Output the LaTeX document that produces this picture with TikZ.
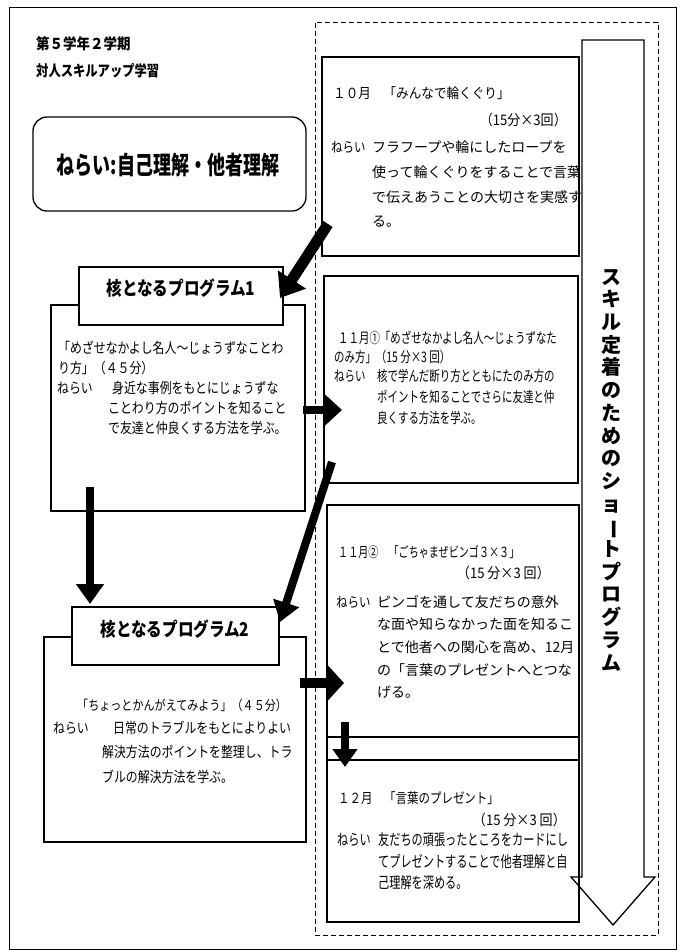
\documentclass[tikz,border=0pt]{standalone}
\usepackage{fontspec}
\usepackage{graphicx}
\usetikzlibrary{arrows.meta,fit}
\setmainfont{Noto Sans CJK JP}
\newfontfamily\jpn{Noto Sans CJK JP}
\newfontfamily\jpe{Noto Sans CJK JP}[FakeStretch=0.9]
\newfontfamily\jpc{Noto Sans CJK JP}[FakeStretch=0.82]
\newfontfamily\jpd{Noto Sans CJK JP}[FakeStretch=0.72]
\begin{document}
\begin{tikzpicture}[x=1pt,y=-1pt,
  box/.style={draw, line width=1.3pt, fill=white, inner sep=0pt},
  t/.style={inner sep=0pt, anchor=west},
  te/.style={inner sep=0pt, anchor=east}]
\useasboundingbox (0,0) rectangle (681,951);
% outer frame and dashed region
\node[draw, line width=1pt, inner sep=0pt, fit={(9,7)(676,949)}] (frame) {};
\node[draw, line width=0.9pt, dash pattern=on 5pt off 3pt, inner sep=0pt, fit={(315,22)(658,935)}] (dash) {};
% title
\node[t, font=\jpe\bfseries\fontsize{15}{17}\selectfont] (title1) at (36,44) {第５学年２学期};
\node[t, font=\jpc\bfseries\fontsize{15}{17}\selectfont] (title2) at (36,71) {対人スキルアップ学習};
% aim box
\node[draw, line width=1.3pt, rounded corners=14pt, inner sep=0pt, fit={(33,117)(306,211)}] (aim) {};
\node[font=\jpd\bfseries\fontsize{25}{28}\selectfont, inner sep=0pt] (aimt) at (168,165) {ねらい:自己理解・他者理解};
% right boxes
\node[box, fit={(322,57)(579,256)}] (b10) {};
\node[box, fit={(324,276)(578,483)}] (b11a) {};
\node[box, fit={(327,505)(579,760)}] (b11b) {};
\draw[line width=1.3pt] (b11b.west |- 0,737) -- (b11b.east |- 0,737);
\node[box, fit={(327,760)(579,922)}] (b12) {};
% left boxes
\node[box, fit={(51,305)(305,511)}] (l1) {};
\node[box, fit={(79,267)(283,325)}] (k1) {};
\node[font=\jpc\bfseries\fontsize{19}{22}\selectfont, inner sep=0pt] (k1t) at (181,288) {核となるプログラム1};
\node[box, fit={(44,637)(306,842)}] (l2) {};
\node[box, fit={(72,607)(279,665)}] (k2) {};
\node[font=\jpc\bfseries\fontsize{19}{22}\selectfont, inner sep=0pt] (k2t) at (175,629) {核となるプログラム2};
% big hollow arrow
\draw[line width=1.3pt, line join=miter] (582,40) -- (644,40) -- (644,877) -- (655,877) -- (613,925) -- (571,877) -- (582,877) -- cycle;
\node[font=\jpn\bfseries\fontsize{20}{22.7}\selectfont, align=center, inner sep=0pt] (vt) at (611,470)
  {ス\\キ\\ル\\定\\着\\の\\た\\め\\の\\シ\\ョ\\\rotatebox[origin=c]{-90}{ー}\\ト\\プ\\ロ\\グ\\ラ\\ム};
% 10月
\node[t, font=\jpe\fontsize{14}{16}\selectfont] (a1) at (333,93) {１０月　「みんなで輪くぐり」};
\node[te, font=\jpe\fontsize{14.5}{16}\selectfont] (a2) at (567,120) {（15分×3回）};
\node[t, font=\jpc\fontsize{14}{16}\selectfont] (a3) at (331,147) {ねらい};
\node[t, font=\jpn\fontsize{14}{16}\selectfont] (a4) at (372,147) {フラフープや輪にしたロープを};
\node[t, font=\jpn\fontsize{14}{16}\selectfont] (a5) at (372,172) {使って輪くぐりをすることで言葉};
\node[t, font=\jpn\fontsize{14}{16}\selectfont] (a6) at (372,197) {で伝えあうことの大切さを実感す};
\node[t, font=\jpn\fontsize{14}{16}\selectfont] (a7) at (372,222) {る。};
% 11月①
\node[t, font=\jpd\fontsize{14.5}{16}\selectfont] (c1) at (338,338) {１１月①「めざせなかよし名人～じょうずなた};
\node[t, font=\jpd\fontsize{14.5}{16}\selectfont] (c2) at (334,357) {のみ方」（15 分×3 回）};
\node[t, font=\jpd\fontsize{14.5}{16}\selectfont] (c3) at (334,376) {ねらい};
\node[t, font=\jpd\fontsize{14.5}{16}\selectfont] (c4) at (377,376) {核で学んだ断り方とともにたのみ方の};
\node[t, font=\jpd\fontsize{14.5}{16}\selectfont] (c5) at (377,397) {ポイントを知ることでさらに友達と仲};
\node[t, font=\jpd\fontsize{14.5}{16}\selectfont] (c6) at (377,418) {良くする方法を学ぶ。};
% 11月②
\node[t, font=\jpd\fontsize{14}{16}\selectfont] (d1) at (338,552) {１１月②　「ごちゃまぜビンゴ３×３」};
\node[te, font=\jpe\fontsize{14.5}{16}\selectfont] (d2) at (550,573) {（15 分×3 回）};
\node[t, font=\jpc\fontsize{14}{16}\selectfont] (d3) at (336,602) {ねらい};
\node[t, font=\jpn\fontsize{14}{16}\selectfont] (d4) at (377,602) {ピンゴを通して友だちの意外};
\node[t, font=\jpn\fontsize{14}{16}\selectfont] (d5) at (377,624) {な面や知らなかった面を知るこ};
\node[t, font=\jpn\fontsize{14}{16}\selectfont] (d6) at (377,647) {とで他者への関心を高め、12月};
\node[t, font=\jpn\fontsize{14}{16}\selectfont] (d7) at (377,670) {の「言葉のプレゼントへとつな};
\node[t, font=\jpn\fontsize{14}{16}\selectfont] (d8) at (377,692) {げる。};
% 12月
\node[t, font=\jpc\fontsize{14}{16}\selectfont] (e1) at (338,798) {１２月　「言葉のプレゼント」};
\node[te, font=\jpe\fontsize{14.5}{16}\selectfont] (e2) at (566,820) {（15 分×3 回）};
\node[t, font=\jpd\fontsize{15.5}{16}\selectfont] (e3) at (337,840) {ねらい};
\node[t, font=\jpd\fontsize{15.5}{16}\selectfont] (e4) at (378,840) {友だちの頑張ったところをカードにし};
\node[t, font=\jpd\fontsize{15.5}{16}\selectfont] (e5) at (378,862) {てプレゼントすることで他者理解と自};
\node[t, font=\jpd\fontsize{15.5}{16}\selectfont] (e6) at (378,883) {己理解を深める。};
% left 1
\node[t, font=\jpc\fontsize{14.5}{16}\selectfont] (f1) at (58,348) {「めざせなかよし名人～じょうずなことわ};
\node[t, font=\jpc\fontsize{14.5}{16}\selectfont] (f2) at (58,368) {り方」（４５分）};
\node[t, font=\jpc\fontsize{14.5}{16}\selectfont] (f3) at (57,388) {ねらい};
\node[t, font=\jpc\fontsize{14.5}{16}\selectfont] (f4) at (112,388) {身近な事例をもとにじょうずな};
\node[t, font=\jpc\fontsize{14.5}{16}\selectfont] (f5) at (108,408) {ことわり方のポイントを知ること};
\node[t, font=\jpc\fontsize{14.5}{16}\selectfont] (f6) at (108,428) {で友達と仲良くする方法を学ぶ。};
% left 2
\node[t, font=\jpc\fontsize{13.5}{16}\selectfont] (g1) at (77,705) {「ちょっとかんがえてみよう」（４５分）};
\node[t, font=\jpc\fontsize{14.5}{16}\selectfont] (g2) at (53,728) {ねらい};
\node[t, font=\jpc\fontsize{14.5}{16}\selectfont] (g3) at (113,728) {日常のトラブルをもとによりよい};
\node[t, font=\jpc\fontsize{14.5}{16}\selectfont] (g4) at (102,752) {解決方法のポイントを整理し、トラ};
\node[t, font=\jpc\fontsize{14.5}{16}\selectfont] (g5) at (102,777) {ブルの解決方法を学ぶ。};
% arrow end points
\coordinate (p1s) at (328,224); \coordinate (p1e) at (280,298);
\coordinate (p2s) at (303,410); \coordinate (p2e) at (342,410);
\coordinate (p3s) at (332,462); \coordinate (p3e) at (280,622);
\coordinate (p4s) at (90,487);  \coordinate (p4e) at (90,604);
\coordinate (p5s) at (300,683); \coordinate (p5e) at (344,683);
\coordinate (p6s) at (345,722); \coordinate (p6e) at (345,767);
\draw[line width=11pt, -{Triangle[length=22pt,width=32pt]}] (p1s) -- (p1e);
\draw[line width=8pt, -{Triangle[length=17pt,width=30pt]}] (p2s) -- (p2e);
\draw[line width=8pt, -{Triangle[length=20pt,width=26pt]}] (p3s) -- (p3e);
\draw[line width=8pt, -{Triangle[length=20pt,width=27pt]}] (p4s) -- (p4e);
\draw[line width=10pt, -{Triangle[length=16pt,width=34pt]}] (p5s) -- (p5e);
\draw[line width=8pt, -{Triangle[length=18pt,width=24pt]}] (p6s) -- (p6e);
\end{tikzpicture}
\end{document}
